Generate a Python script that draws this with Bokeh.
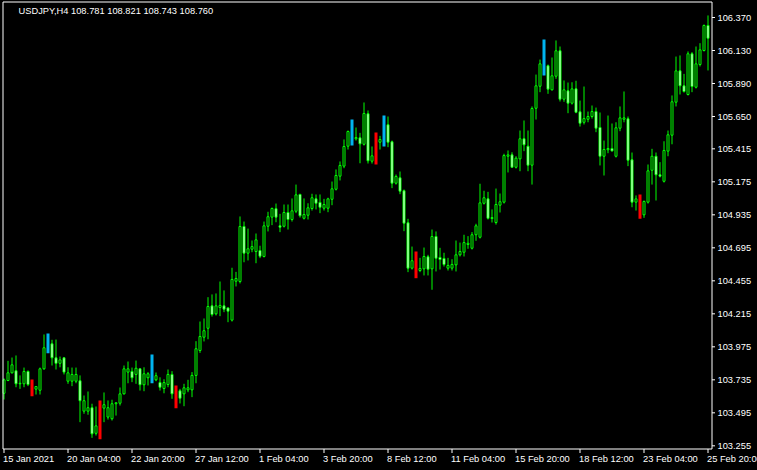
from bokeh.plotting import figure
from bokeh.models import Range1d, ColumnDataSource, GlobalInlineStyleSheet
from bokeh.core.properties import value
from bokeh.embed import file_html
from bokeh.resources import INLINE

# ---------------- data (USDJPY H4, bars from 15 Jan 2021 12:00 to 25 Feb 2021 20:00) ----------------
open_ = [
    103.637, 103.730, 103.786, 103.801, 103.706, 103.706, 103.796, 103.701, 103.667, 103.659,
    103.815, 103.970, 103.997, 103.895, 103.855, 103.895, 103.725, 103.725, 103.725, 103.728,
    103.507, 103.507, 103.532, 103.346, 103.403, 103.529, 103.464, 103.452, 103.561, 103.565,
    103.633, 103.791, 103.796, 103.774, 103.815, 103.699, 103.750, 103.781, 103.735, 103.715,
    103.672, 103.701, 103.774, 103.636, 103.655, 103.633, 103.662, 103.662, 103.767, 103.948,
    104.045, 104.110, 104.273, 104.215, 104.261, 104.273, 104.258, 104.169, 104.452, 104.450,
    104.850, 104.656, 104.685, 104.668, 104.675, 104.632, 104.852, 104.918, 104.979, 104.855,
    104.852, 104.952, 104.901, 104.961, 105.083, 104.910, 104.932, 104.981, 105.051, 105.025,
    104.983, 104.983, 105.048, 105.121, 105.216, 105.289, 105.434, 105.541, 105.488, 105.495,
    105.448, 105.670, 105.325, 105.366, 105.463, 105.483, 105.590, 105.466, 105.165, 105.204,
    105.110, 104.877, 104.547, 104.603, 104.530, 104.542, 104.630, 104.542, 104.777, 104.625,
    104.617, 104.547, 104.547, 104.571, 104.644, 104.663, 104.719, 104.692, 104.790, 104.772,
    105.019, 105.051, 104.915, 104.879, 105.005, 105.027, 105.361, 105.371, 105.281, 105.342,
    105.488, 105.434, 105.296, 105.710, 105.870, 106.035, 106.019, 105.844, 105.943, 106.128,
    105.776, 105.837, 105.747, 105.851, 105.684, 105.608, 105.630, 105.650, 105.686, 105.570,
    105.361, 105.408, 105.417, 105.361, 105.565, 105.630, 105.633, 105.335, 105.027, 105.039,
    104.935, 105.027, 105.259, 105.361, 105.226, 105.179, 105.398, 105.514, 105.754, 105.982,
    105.873, 105.810, 106.106, 105.863, 106.028, 106.130, 106.312,
]
high = [
    103.745, 103.873, 103.897, 103.912, 103.767, 103.824, 103.803, 103.737, 103.686, 103.824,
    104.065, 104.072, 104.026, 104.028, 103.904, 103.899, 103.826, 103.824, 103.824, 103.767,
    103.621, 103.650, 103.561, 103.541, 103.585, 103.643, 103.585, 103.590, 103.570, 103.679,
    103.839, 103.868, 103.824, 103.875, 103.819, 103.826, 103.791, 103.919, 103.788, 103.753,
    103.739, 103.810, 103.798, 103.694, 103.669, 103.706, 103.735, 103.791, 104.016, 104.159,
    104.181, 104.336, 104.356, 104.363, 104.450, 104.385, 104.261, 104.550, 104.520, 104.923,
    104.886, 104.835, 104.748, 104.799, 104.710, 104.886, 104.957, 104.988, 105.017, 104.942,
    105.010, 105.010, 105.054, 105.155, 105.088, 105.054, 105.019, 105.088, 105.083, 105.083,
    105.051, 105.059, 105.177, 105.265, 105.323, 105.483, 105.548, 105.628, 105.570, 105.531,
    105.752, 105.694, 105.432, 105.534, 105.509, 105.657, 105.650, 105.475, 105.228, 105.250,
    105.119, 104.906, 104.704, 104.668, 104.622, 104.697, 104.644, 104.828, 104.814, 104.695,
    104.659, 104.622, 104.612, 104.748, 104.733, 104.790, 104.780, 104.809, 104.870, 105.161,
    105.110, 105.102, 104.974, 105.126, 105.090, 105.379, 105.403, 105.390, 105.361, 105.548,
    105.621, 105.548, 105.723, 105.955, 106.064, 106.210, 106.028, 106.079, 106.203, 106.159,
    105.912, 105.897, 105.899, 105.910, 105.766, 105.868, 105.686, 105.730, 105.715, 105.679,
    105.475, 105.657, 105.599, 105.608, 105.723, 105.832, 105.650, 105.388, 105.076, 105.083,
    105.039, 105.301, 105.415, 105.388, 105.318, 105.470, 105.548, 105.803, 106.086, 106.094,
    105.960, 106.123, 106.118, 106.159, 106.183, 106.319, 106.385,
]
low = [
    103.592, 103.725, 103.781, 103.681, 103.669, 103.681, 103.689, 103.616, 103.628, 103.628,
    103.808, 103.928, 103.839, 103.810, 103.826, 103.774, 103.706, 103.689, 103.710, 103.427,
    103.488, 103.481, 103.313, 103.330, 103.303, 103.427, 103.446, 103.439, 103.475, 103.548,
    103.628, 103.710, 103.718, 103.706, 103.657, 103.652, 103.694, 103.710, 103.725, 103.657,
    103.637, 103.681, 103.597, 103.529, 103.563, 103.543, 103.645, 103.609, 103.710, 103.931,
    104.014, 104.030, 104.195, 104.203, 104.198, 104.227, 104.154, 104.159, 104.414, 104.436,
    104.590, 104.603, 104.663, 104.583, 104.620, 104.625, 104.814, 104.860, 104.881, 104.809,
    104.843, 104.828, 104.886, 104.947, 104.915, 104.901, 104.901, 104.966, 104.974, 104.947,
    104.966, 104.954, 105.005, 105.112, 105.185, 105.274, 105.410, 105.439, 105.475, 105.310,
    105.439, 105.308, 105.308, 105.301, 105.410, 105.432, 105.427, 105.129, 105.155, 105.085,
    104.816, 104.518, 104.537, 104.474, 104.518, 104.494, 104.494, 104.390, 104.523, 104.537,
    104.559, 104.530, 104.530, 104.523, 104.632, 104.632, 104.688, 104.683, 104.746, 104.763,
    105.010, 104.901, 104.879, 104.864, 104.952, 105.017, 105.243, 105.277, 105.272, 105.252,
    105.398, 105.252, 105.155, 105.628, 105.827, 105.948, 105.815, 105.839, 105.924, 105.759,
    105.757, 105.674, 105.737, 105.674, 105.577, 105.592, 105.608, 105.635, 105.536, 105.294,
    105.221, 105.383, 105.395, 105.352, 105.543, 105.608, 105.289, 104.990, 104.966, 104.906,
    104.913, 105.017, 105.155, 105.039, 105.207, 105.170, 105.361, 105.448, 105.723, 105.810,
    105.824, 105.803, 105.827, 105.854, 106.014, 106.123, 105.985,
]
close_ = [
    103.735, 103.786, 103.844, 103.706, 103.710, 103.796, 103.701, 103.643, 103.686, 103.815,
    103.968, 104.021, 103.895, 103.855, 103.880, 103.791, 103.786, 103.774, 103.774, 103.583,
    103.583, 103.532, 103.342, 103.400, 103.548, 103.554, 103.532, 103.561, 103.568, 103.633,
    103.815, 103.815, 103.750, 103.819, 103.699, 103.779, 103.779, 103.875, 103.765, 103.681,
    103.715, 103.774, 103.633, 103.585, 103.601, 103.677, 103.677, 103.767, 103.961, 104.050,
    104.092, 104.268, 104.210, 104.273, 104.276, 104.249, 104.234, 104.465, 104.472, 104.850,
    104.656, 104.688, 104.704, 104.753, 104.634, 104.855, 104.921, 104.981, 104.918, 104.845,
    104.952, 104.901, 104.964, 105.080, 104.928, 104.937, 104.986, 105.059, 105.019, 104.990,
    105.010, 105.051, 105.124, 105.221, 105.294, 105.432, 105.541, 105.512, 105.497, 105.451,
    105.672, 105.328, 105.364, 105.475, 105.483, 105.592, 105.463, 105.165, 105.214, 105.107,
    104.874, 104.547, 104.601, 104.530, 104.545, 104.632, 104.539, 104.777, 104.619, 104.610,
    104.574, 104.567, 104.574, 104.644, 104.668, 104.733, 104.728, 104.790, 104.855, 105.022,
    105.059, 104.910, 104.908, 105.010, 105.030, 105.366, 105.371, 105.281, 105.347, 105.488,
    105.444, 105.296, 105.708, 105.873, 106.033, 106.130, 105.849, 105.946, 106.128, 105.776,
    105.844, 105.747, 105.851, 105.681, 105.601, 105.635, 105.650, 105.686, 105.565, 105.361,
    105.410, 105.417, 105.400, 105.568, 105.640, 105.640, 105.332, 105.027, 105.051, 104.952,
    105.032, 105.255, 105.361, 105.226, 105.216, 105.403, 105.517, 105.757, 105.982, 105.873,
    105.832, 106.106, 105.868, 106.033, 106.135, 106.312, 106.219,
]
# indicator-coloured bars (bar indices)
up_signal = [11, 37, 87, 95, 135]
down_signal = [7, 24, 43, 93, 103, 159]

price_ticks = [106.370, 106.130, 105.890, 105.650, 105.415, 105.175, 104.935,
               104.695, 104.455, 104.215, 103.975, 103.735, 103.495, 103.255]
time_tick_bars = [0, 16, 32, 48, 64, 80, 96, 112, 128, 144, 160, 176]
time_labels = ["15 Jan 2021", "20 Jan 04:00", "22 Jan 20:00", "27 Jan 12:00", "1 Feb 04:00",
               "3 Feb 20:00", "8 Feb 12:00", "11 Feb 04:00", "15 Feb 20:00", "18 Feb 12:00",
               "23 Feb 04:00", "25 Feb 20:00"]
title_text = "USDJPY,H4  108.781 108.821 108.743 108.760"

# ---------------- layout (pixels) & styling ----------------
W, H = 757, 470
BAR_PX = 4.0          # horizontal pixels per bar
FIRST_BAR_PX = 3.5    # pixel centre of bar 0
PRICE_PX = 137.5      # pixels per 1.000 of price
TOP_TICK_PX = 17.0    # pixel row of the top price tick
BORDER_L, BORDER_R, BORDER_T, BORDER_B = 2.5, 711.5, 1.5, 448.5

LIME = "#00FF00"
BLUE = "#00B4F0"
RED = "#FF0000"
FONT = "Liberation Sans"
FSIZE = "9.3px"

x_start = -FIRST_BAR_PX / BAR_PX
y_top = price_ticks[0] + TOP_TICK_PX / PRICE_PX


def xd(px):
    return x_start + px / BAR_PX


def yd(py):
    return y_top - py / PRICE_PX


n = len(close_)
p = figure(width=W, height=H, output_backend="svg", toolbar_location=None,
           x_range=Range1d(xd(0), xd(W)), y_range=Range1d(yd(H), yd(0)),
           x_axis_location=None, y_axis_location=None,
           min_border_left=0, min_border_right=0, min_border_top=0, min_border_bottom=0)
p.stylesheets = [GlobalInlineStyleSheet(css="html,body{margin:0;padding:0;background:#000;overflow:hidden;}")]
p.background_fill_color = "black"
p.border_fill_color = "black"
p.outline_line_color = None
p.grid.visible = False

# ---- candles ----
up_set, dn_set = set(up_signal), set(down_signal)
plain = [i for i in range(n) if i not in up_set and i not in dn_set]

wsrc = ColumnDataSource(dict(x=plain, lo=[low[i] for i in plain], hi=[high[i] for i in plain]))
p.segment(x0="x", y0="lo", x1="x", y1="hi", source=wsrc, line_color=LIME, line_width=1)


def body_src(idx):
    return ColumnDataSource(dict(x=idx,
                                 top=[max(open_[i], close_[i]) for i in idx],
                                 bot=[min(open_[i], close_[i]) for i in idx]))


bull = [i for i in plain if close_[i] >= open_[i]]
bear = [i for i in plain if close_[i] < open_[i]]
p.vbar(x="x", width=0.5, top="top", bottom="bot", source=body_src(bull),
       fill_color="black", line_color=LIME, line_width=1)
p.vbar(x="x", width=0.5, top="top", bottom="bot", source=body_src(bear),
       fill_color="white", line_color=LIME, line_width=1)

for idx, col in ((up_signal, BLUE), (down_signal, RED)):
    s = ColumnDataSource(dict(x=idx, top=[high[i] for i in idx], bot=[low[i] for i in idx]))
    p.vbar(x="x", width=0.75, top="top", bottom="bot", source=s, fill_color=col, line_color=None)

# ---- chart border ----
p.quad(left=[xd(BORDER_L)], right=[xd(BORDER_R)], top=[yd(BORDER_T)], bottom=[yd(BORDER_B)],
       fill_color=None, line_color="white", line_width=1)

# ---- price axis (right) ----
n_pt = len(price_ticks)
p.segment(x0=[xd(BORDER_R)] * n_pt, x1=[xd(BORDER_R + 3)] * n_pt, y0=price_ticks, y1=price_ticks,
          line_color="white", line_width=1)
p.text(x=[xd(BORDER_R + 5.5)] * n_pt, y=price_ticks, text=["%.3f" % v for v in price_ticks],
       text_align="left", text_baseline="middle", text_color="white",
       text_font=value(FONT), text_font_size=FSIZE)

# ---- time axis (bottom) ----
n_tt = len(time_tick_bars)
p.segment(x0=time_tick_bars, x1=time_tick_bars, y0=[yd(BORDER_B)] * n_tt, y1=[yd(BORDER_B + 4)] * n_tt,
          line_color="white", line_width=1)
p.text(x=time_tick_bars, y=[yd(458)] * n_tt, text=time_labels, x_offset=-1,
       text_align="left", text_baseline="middle", text_color="white",
       text_font=value(FONT), text_font_size=FSIZE)

# ---- title ----
p.text(x=[xd(18)], y=[yd(10.5)], text=[title_text], text_align="left", text_baseline="middle",
       text_color="white", text_font=value(FONT), text_font_size=FSIZE)

open("out.html", "w").write(file_html(p, INLINE))
